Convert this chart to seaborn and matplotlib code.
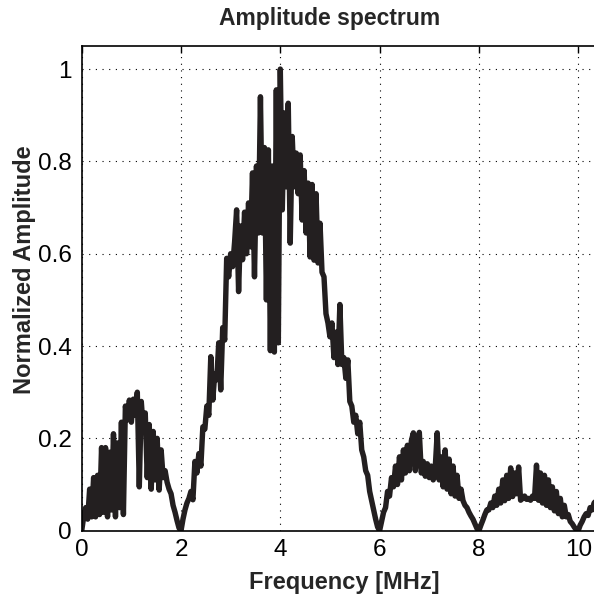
import numpy as np
import pandas as pd
import matplotlib
matplotlib.use("Agg")
import matplotlib.pyplot as plt
import seaborn as sns

# Frequency sampling (MHz) of the spectrum
freq_step = 0.04

# Normalized amplitude, one row per MHz (0.04 MHz spacing)
amp_0_1 = [0.00, 0.03, 0.05, 0.025, 0.09, 0.03, 0.115, 0.03, 0.12, 0.035,
           0.18, 0.04, 0.18, 0.03, 0.17, 0.045, 0.21, 0.03, 0.19, 0.05,
           0.235, 0.035, 0.27, 0.24, 0.283]
amp_1_2 = [0.235, 0.285, 0.25, 0.30, 0.095, 0.28, 0.22, 0.255, 0.115, 0.23,
           0.09, 0.215, 0.11, 0.20, 0.088, 0.175, 0.115, 0.13, 0.105, 0.09,
           0.08, 0.055, 0.04, 0.022, 0.006]
amp_2_3 = [0.0, 0.025, 0.045, 0.06, 0.07, 0.085, 0.067, 0.15, 0.125, 0.167,
           0.14, 0.225, 0.22, 0.27, 0.25, 0.377, 0.283, 0.34, 0.327, 0.407,
           0.305, 0.44, 0.413, 0.59, 0.55]
amp_3_4 = [0.60, 0.572, 0.626, 0.695, 0.518, 0.66, 0.587, 0.69, 0.60, 0.71,
           0.615, 0.775, 0.55, 0.79, 0.645, 0.94, 0.645, 0.83, 0.50, 0.825,
           0.39, 0.79, 0.387, 0.955, 0.407]
amp_4_5 = [1.0, 0.695, 0.905, 0.745, 0.926, 0.623, 0.854, 0.745, 0.818, 0.73,
           0.814, 0.673, 0.78, 0.645, 0.753, 0.593, 0.75, 0.586, 0.73, 0.58,
           0.666, 0.56, 0.55, 0.47, 0.45]
amp_5_6 = [0.42, 0.45, 0.375, 0.43, 0.36, 0.49, 0.36, 0.375, 0.33, 0.37,
           0.28, 0.27, 0.235, 0.25, 0.21, 0.235, 0.175, 0.16, 0.13, 0.12,
           0.085, 0.065, 0.045, 0.025, 0.008]
amp_6_7 = [0.0, 0.02, 0.04, 0.05, 0.085, 0.075, 0.115, 0.095, 0.14, 0.10,
           0.16, 0.11, 0.175, 0.125, 0.185, 0.13, 0.195, 0.212, 0.13, 0.17,
           0.213, 0.125, 0.15, 0.118, 0.145]
amp_7_8 = [0.115, 0.14, 0.11, 0.135, 0.212, 0.11, 0.16, 0.095, 0.175, 0.09,
           0.155, 0.08, 0.14, 0.075, 0.12, 0.07, 0.09, 0.065, 0.055, 0.05,
           0.04, 0.032, 0.025, 0.015, 0.005]
amp_8_9 = [0.0, 0.012, 0.023, 0.035, 0.045, 0.045, 0.06, 0.05, 0.075, 0.055,
           0.09, 0.06, 0.11, 0.065, 0.12, 0.07, 0.136, 0.074, 0.125, 0.08,
           0.138, 0.066, 0.07, 0.075, 0.068]
amp_9_10 = [0.07, 0.066, 0.075, 0.07, 0.142, 0.066, 0.125, 0.06, 0.12, 0.055,
            0.11, 0.05, 0.095, 0.043, 0.085, 0.037, 0.07, 0.03, 0.055, 0.03,
            0.035, 0.02, 0.015, 0.008, 0.002]
amp_10_end = [0.0, 0.012, 0.02, 0.03, 0.037, 0.033, 0.05, 0.045, 0.06, 0.065]

amplitude = (amp_0_1 + amp_1_2 + amp_2_3 + amp_3_4 + amp_4_5 + amp_5_6 +
             amp_6_7 + amp_7_8 + amp_8_9 + amp_9_10 + amp_10_end)
freq_mhz = np.round(np.arange(len(amplitude)) * freq_step, 2)

x_ticks = [0, 2, 4, 6, 8, 10]
y_ticks = [0, 0.2, 0.4, 0.6, 0.8, 1.0]
y_tick_labels = ["0", "0.2", "0.4", "0.6", "0.8", "1"]

df = pd.DataFrame({"Frequency": freq_mhz, "Amplitude": amplitude})

sns.set_style("white")
plt.rcParams["font.family"] = ["Liberation Sans", "DejaVu Sans"]

fig = plt.figure(figsize=(5.94, 6.01), dpi=100)
ax_left, ax_w = 81.7 / 594, 11 * 49.65 / 594
ax = fig.add_axes([ax_left, 70.3 / 601, ax_w, 484.7 / 601])

sns.lineplot(data=df, x="Frequency", y="Amplitude", ax=ax, color="#231f20",
             linewidth=3.9, sort=False, estimator=None)

ax.set_xlim(0, 11)
ax.set_ylim(0, 1.05)
ax.set_xticks(x_ticks)
ax.set_xticklabels([str(t) for t in x_ticks])
ax.set_yticks(y_ticks)
ax.set_yticklabels(y_tick_labels)

ax.grid(True, color="black", linestyle=(0, (1, 5)), linewidth=0.8)
ax.tick_params(axis="both", which="both", direction="in", length=5, width=1,
               top=True, right=True, labelsize=17.5, colors="black")
ax.tick_params(axis="x", pad=6)
ax.tick_params(axis="y", pad=7)
for s in ax.spines.values():
    s.set_color("black")
    s.set_linewidth(1.2)

ax.set_xlabel("Frequency [MHz]", fontsize=17, fontweight="bold")
ax.set_ylabel("Normalized Amplitude", fontsize=17, fontweight="bold")
ax_w_px = ax_w * 594
ax_h_px = 484.7
ax.xaxis.set_label_coords((344 - 81.7) / ax_w_px, -(583 - 530.7) / ax_h_px)
ax.yaxis.set_label_coords(-(81.7 - 24) / ax_w_px, (530.7 - 270) / ax_h_px)
ax.xaxis.label.set_va("center")
ax.yaxis.label.set_va("center")
fig.text(330 / 594, 1 - 19 / 601, "Amplitude spectrum", fontsize=16.5,
         fontweight="bold", ha="center", va="center")

fig.savefig("out.png", dpi=100)
